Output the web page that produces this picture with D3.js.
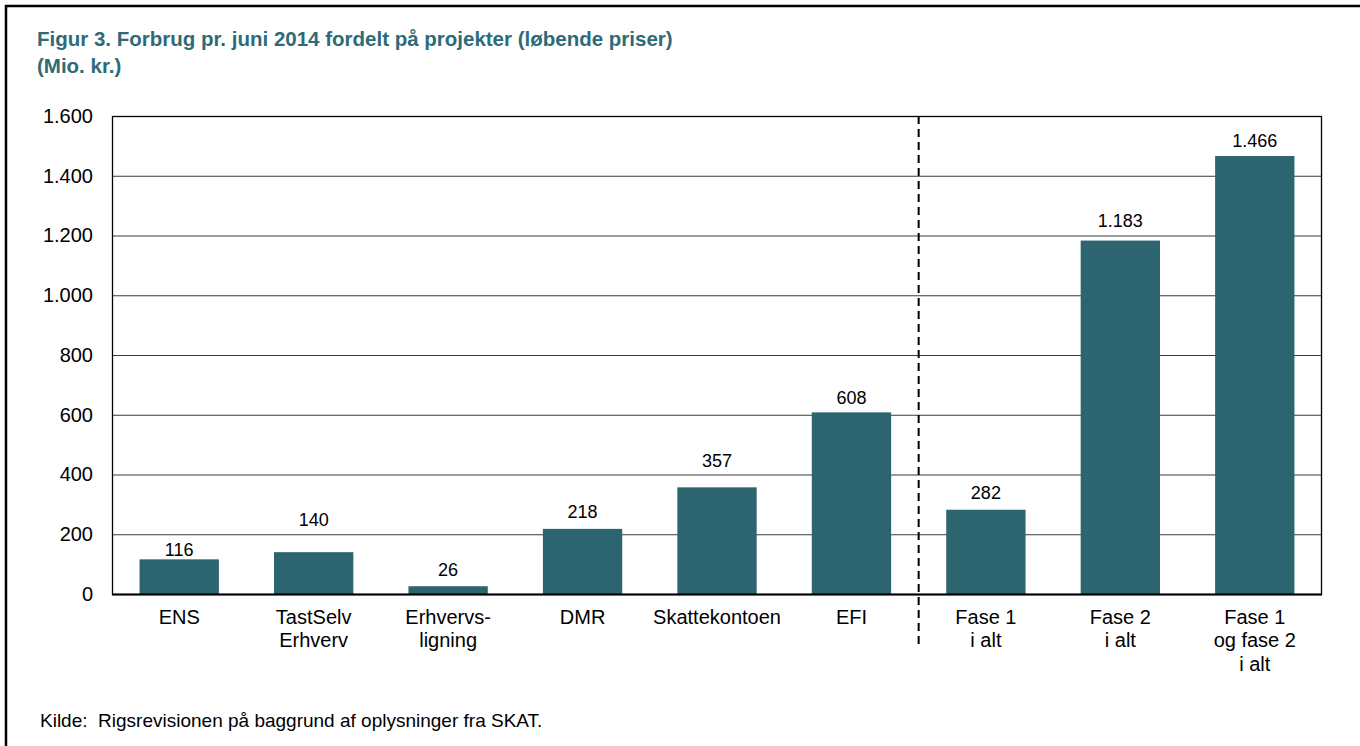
<!DOCTYPE html>
<html>
<head>
<meta charset="utf-8">
<script src="https://cdn.jsdelivr.net/npm/d3@7"></script>
<style>
  body { margin: 0; background: #fff; }
  svg { display: block; font-family: "Liberation Sans", Arial, sans-serif; }
</style>
</head>
<body>
<svg id="chart"></svg>
<script>
// data (Mio. kr.)
const categories = ["ENS", "TastSelv Erhverv", "Erhvervs-ligning", "DMR", "Skattekontoen", "EFI",
                    "Fase 1 i alt", "Fase 2 i alt", "Fase 1 og fase 2 i alt"];
const labelLines = [["ENS"], ["TastSelv", "Erhverv"], ["Erhvervs-", "ligning"], ["DMR"], ["Skattekontoen"], ["EFI"],
                    ["Fase 1", "i alt"], ["Fase 2", "i alt"], ["Fase 1", "og fase 2", "i alt"]];
const values = [116, 140, 26, 218, 357, 608, 282, 1183, 1466];
const yTicks = [0, 200, 400, 600, 800, 1000, 1200, 1400, 1600];

const width = 1360;
const height = 746;
const margin = {top: 116, right: 38, bottom: 152, left: 112};
const barColor = "#2c6470";
const titleColor = "#2e6b77";

const svg = d3.select("#chart")
    .attr("width", width)
    .attr("height", height);

const fmt = d3.formatLocale({decimal: ",", thousands: ".", grouping: [3], currency: ["", ""]}).format(",d");

const x = d3.scaleBand()
    .domain(categories)
    .range([margin.left, width - margin.right])
    .paddingInner(0.41)
    .paddingOuter(0.205);

const y = d3.scaleLinear()
    .domain([0, 1600])
    .range([height - margin.bottom, margin.top]);

// outer frame (top and left edges only)
svg.append("path")
    .attr("d", "M6,746 V6 H1360")
    .attr("fill", "none")
    .attr("stroke", "#000")
    .attr("stroke-width", 2.5);

// title
const title = svg.append("text")
    .attr("x", 37)
    .attr("y", 46)
    .attr("fill", titleColor)
    .attr("font-weight", "bold")
    .attr("font-size", 20.5);
title.append("tspan").text("Figur 3. Forbrug pr. juni 2014 fordelt på projekter (løbende priser)");
title.append("tspan").attr("x", 37).attr("dy", 27).text("(Mio. kr.)");

// gridlines
svg.append("g")
    .selectAll("line")
    .data(yTicks.filter(d => d > 0 && d < 1600))
    .enter().append("line")
    .attr("x1", margin.left)
    .attr("x2", width - margin.right)
    .attr("y1", d => y(d) + 0.5)
    .attr("y2", d => y(d) + 0.5)
    .attr("stroke", "#3a3a3a")
    .attr("stroke-width", 1);

// y axis labels
const yAxis = svg.append("g")
    .attr("transform", `translate(${margin.left},0)`)
    .call(d3.axisLeft(y).tickValues(yTicks).tickSize(0).tickPadding(19).tickFormat(fmt));
yAxis.select(".domain").remove();
yAxis.selectAll("text")
    .attr("font-size", 20)
    .attr("font-family", "Liberation Sans, Arial, sans-serif")
    .attr("fill", "#000");

// bars
svg.append("g")
    .selectAll("rect")
    .data(values)
    .enter().append("rect")
    .attr("x", (d, i) => x(categories[i]))
    .attr("width", x.bandwidth())
    .attr("y", d => y(d))
    .attr("height", d => y(0) - y(d))
    .attr("fill", barColor);

// value labels (Excel nudged a few of them)
const lift = [10, 33, 17, 17, 27, 15, 17, 20, 16];
svg.append("g")
    .selectAll("text")
    .data(values)
    .enter().append("text")
    .attr("x", (d, i) => x(categories[i]) + x.bandwidth() / 2)
    .attr("y", (d, i) => y(d) - lift[i] + 6.5)
    .attr("text-anchor", "middle")
    .attr("font-size", 18)
    .attr("fill", "#000")
    .text(d => fmt(d));

// plot frame
svg.append("rect")
    .attr("x", margin.left + 0.5)
    .attr("y", y(1600) + 0.5)
    .attr("width", width - margin.right - margin.left - 1)
    .attr("height", y(0) - y(1600))
    .attr("fill", "none")
    .attr("stroke", "#000")
    .attr("stroke-width", 1.3);
svg.append("line")
    .attr("x1", margin.left).attr("x2", width - margin.right)
    .attr("y1", y(0) + 0.5).attr("y2", y(0) + 0.5)
    .attr("stroke", "#000").attr("stroke-width", 2);

// category labels
const cat = svg.append("g")
    .selectAll("text")
    .data(categories)
    .enter().append("text")
    .attr("x", d => x(d) + x.bandwidth() / 2)
    .attr("y", y(0) + 29.5)
    .attr("text-anchor", "middle")
    .attr("font-size", 20)
    .attr("fill", "#000");
cat.each(function(d, i) {
    const t = d3.select(this);
    labelLines[i].forEach((line, j) => {
        t.append("tspan")
            .attr("x", x(d) + x.bandwidth() / 2)
            .attr("dy", j === 0 ? 0 : 23.6)
            .text(line);
    });
});

// dashed separator between projects and totals
const sepX = (x("EFI") + x.bandwidth() + x("Fase 1 i alt")) / 2;
svg.append("line")
    .attr("x1", sepX).attr("x2", sepX)
    .attr("y1", y(1600)).attr("y2", 645)
    .attr("stroke", "#000")
    .attr("stroke-width", 2)
    .attr("stroke-dasharray", "8,5");

// source
svg.append("text")
    .attr("x", 40)
    .attr("y", 727)
    .attr("font-size", 19)
    .attr("fill", "#000")
    .attr("xml:space", "preserve")
    .style("white-space", "pre")
    .text("Kilde:  Rigsrevisionen på baggrund af oplysninger fra SKAT.");
</script>
</body>
</html>
